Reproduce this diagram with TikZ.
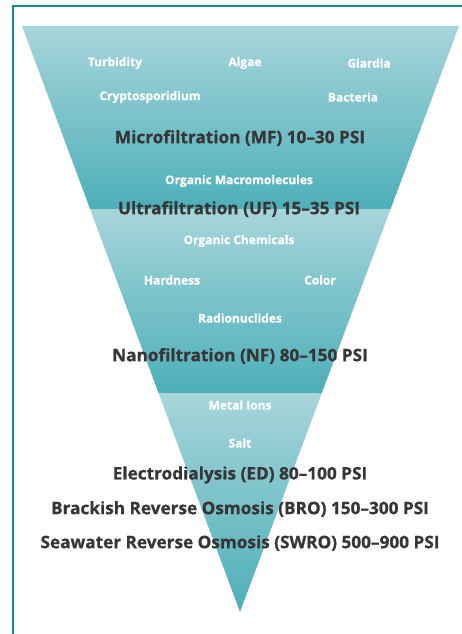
\documentclass[tikz,border=0pt]{standalone}
\usepackage{fontspec}
\setmainfont{Open Sans}[BoldFeatures={FakeBold=0.8}]
\usetikzlibrary{calc}
\definecolor{frameteal}{HTML}{13898F}
\definecolor{funnellight}{HTML}{A7D5DA}
\definecolor{funneldark}{HTML}{4DAFB9}
\definecolor{stagegray}{HTML}{363636}
\tikzset{
  whitelabel/.style={text=white,font=\bfseries\fontsize{12}{14}\selectfont,inner sep=0pt},
  stagelabel/.style={text=stagegray,font=\bfseries\fontsize{17.2}{20}\selectfont,inner sep=0pt},
  band/.style={top color=funnellight,bottom color=funneldark}
}

\begin{document}
\begin{tikzpicture}[x=1pt,y=-1pt]
  \useasboundingbox(0,0)rectangle(462,634);
  \draw[frameteal,line width=2pt](13,634)--(13,6)--(462,6);
  \coordinate (tl) at (22,26);
  \coordinate (tr) at (459,26);
  \coordinate (apex) at (240,612);
  \coordinate (l1) at ($(tl)!0.3123!(apex)$);
  \coordinate (r1) at ($(tr)!0.3123!(apex)$);
  \coordinate (l2) at ($(tl)!0.6263!(apex)$);
  \coordinate (r2) at ($(tr)!0.6263!(apex)$);
  \shade[band](tl)--(tr)--(r1)--(l1)--cycle;
  \shade[band](l1)--(r1)--(r2)--(l2)--cycle;
  \shade[band](l2)--(r2)--(apex)--cycle;
  % microfiltration
  \node[whitelabel] (turb) at (115,63) {Turbidity};
  \node[whitelabel] (algae) at (245,63) {Algae};
  \node[whitelabel] (giard) at (369,63) {Giardia};
  \node[whitelabel] (crypto) at (150,97) {Cryptosporidium};
  \node[whitelabel] (bact) at (353,97) {Bacteria};
  \node[stagelabel] (mf) at (240,138) {Microfiltration (MF) 10–30 PSI};
  % ultrafiltration
  \node[whitelabel] (macro) at (239,181) {Organic Macromolecules};
  \node[stagelabel] (uf) at (239,209) {Ultrafiltration (UF) 15–35 PSI};
  % nanofiltration
  \node[whitelabel] (chem) at (239,241) {Organic Chemicals};
  \node[whitelabel] (hard) at (172,280) {Hardness};
  \node[whitelabel] (color) at (320,280) {Color};
  \node[whitelabel] (radio) at (240,318) {Radionuclides};
  \node[stagelabel] (nf) at (240,356) {Nanofiltration (NF) 80–150 PSI};
  % reverse osmosis
  \node[whitelabel] (metal) at (240,405) {Metal Ions};
  \node[whitelabel] (salt) at (240,443) {Salt};
  \node[stagelabel] (ed) at (240,475) {Electrodialysis (ED) 80–100 PSI};
  \node[stagelabel] (bro) at (240,509) {Brackish Reverse Osmosis (BRO) 150–300 PSI};
  \node[stagelabel] (swro) at (240,543) {Seawater Reverse Osmosis (SWRO) 500–900 PSI};
\end{tikzpicture}
\end{document}
